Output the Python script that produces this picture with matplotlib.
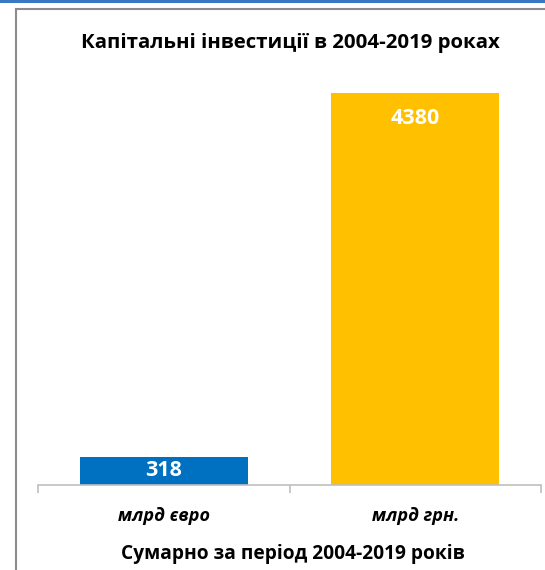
import matplotlib
matplotlib.use("Agg")
import matplotlib.pyplot as plt
from matplotlib.lines import Line2D
from matplotlib.patches import Rectangle
import numpy as np

categories = ["млрд євро", "млрд грн."]
values = [318, 4380]
bar_colors = ["#0070C0", "#FFC000"]
title = "Капітальні інвестиції в 2004-2019 роках"
xlabel = "Сумарно за період 2004-2019 років"

plt.rcParams['font.family'] = ['Open Sans', 'DejaVu Sans']

W, H = 545, 570
fig = plt.figure(figsize=(W / 100, H / 100), dpi=100)

def fx(px):
    return px / W

def fy(py):
    return 1 - py / H

# outer frame & top band
fig.patches.append(Rectangle((0, fy(3)), 1, 3 / H, transform=fig.transFigure,
                             facecolor="#3a78c2", edgecolor="none"))
fig.lines.append(Line2D([fx(16), fx(16)], [fy(9), 0], transform=fig.transFigure,
                        color="#8c8c8c", lw=1.5))
fig.lines.append(Line2D([fx(16), 1], [fy(9), fy(9)], transform=fig.transFigure,
                        color="#8c8c8c", lw=1.5))

ax_top, ax_bot = 60, 485
ymax = 4749
ax = fig.add_axes([fx(38), fy(ax_bot), fx(541) - fx(38), (ax_bot - ax_top) / H])
x = np.arange(len(categories))
bars = ax.bar(x, values, width=0.667, color=bar_colors)
ax.set_xlim(-0.5, len(categories) - 0.5)
ax.set_ylim(0, ymax)

for s in ["top", "right", "left"]:
    ax.spines[s].set_visible(False)
ax.spines["bottom"].set_color("#bfbfbf")
ax.spines["bottom"].set_linewidth(1.2)
ax.set_yticks([])
ax.set_xticks(x)
ax.set_xticklabels(categories, fontsize=13, fontweight="bold", style="italic")
ax.tick_params(axis="x", which="major", length=0, pad=15.5)
ax.set_xticks(np.arange(-0.5, len(categories)), minor=True)
ax.tick_params(axis="x", which="minor", length=6, color="#bfbfbf", width=1.2)

off = 25 * ymax / (ax_bot - ax_top)  # 25 px below bar top
for b, v in zip(bars, values):
    yc = max(v - off, v / 2)
    ax.text(b.get_x() + b.get_width() / 2, yc, str(v), ha="center", va="center",
            color="white", fontsize=15.5, fontweight="bold")

fig.text(fx(290), fy(43), title, ha="center", va="center", fontsize=14.7, fontweight="bold")
fig.text(fx(293), fy(554), xlabel, ha="center", va="center", fontsize=13.8, fontweight="bold")

fig.savefig("out.png", dpi=100)
